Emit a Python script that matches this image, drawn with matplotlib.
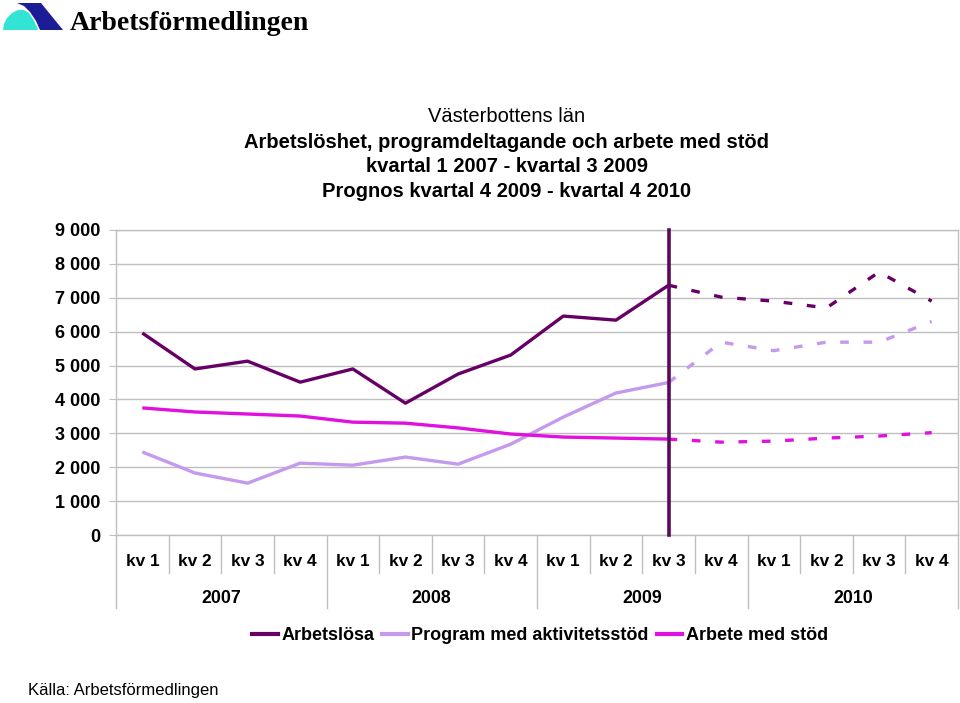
import matplotlib
matplotlib.use("Agg")
import matplotlib.pyplot as plt
from matplotlib.lines import Line2D
from matplotlib.patches import Polygon

plt.rcParams['font.family'] = ['Liberation Sans', 'DejaVu Sans']

# kategorier
kvartal = ["kv 1", "kv 2", "kv 3", "kv 4"] * 4
ar = ["2007", "2008", "2009", "2010"]

# utfall kv1 2007 - kv3 2009
arbetslosa = [5960, 4900, 5130, 4510, 4900, 3890, 4750, 5310, 6460, 6340, 7370]
program = [2450, 1830, 1530, 2120, 2060, 2300, 2090, 2680, 3480, 4190, 4500]
arbete = [3750, 3630, 3570, 3510, 3330, 3300, 3160, 2980, 2890, 2860, 2830]

# prognos kv3 2009 - kv4 2010
arbetslosa_prognos = [7370, 7020, 6900, 6700, 7760, 6900]
program_prognos = [4500, 5690, 5440, 5690, 5690, 6300]
arbete_prognos = [2830, 2740, 2770, 2860, 2920, 3020]

yticks = [0, 1000, 2000, 3000, 4000, 5000, 6000, 7000, 8000, 9000]
ytick_labels = ["0", "1 000", "2 000", "3 000", "4 000", "5 000",
                "6 000", "7 000", "8 000", "9 000"]

c_arb = "#660066"
c_prog = "#C49AEC"
c_stod = "#E010E0"
c_grid = "#BFBFBF"

fig = plt.figure(figsize=(9.6, 7.03), dpi=100)
ax = fig.add_axes([116/960, 1-535/703, 842/960, 305/703])

x_utfall = list(range(len(arbetslosa)))
x_prognos = list(range(len(arbetslosa)-1, len(kvartal)))

lw = 2.4
dash = (2.6, 4.4)
ax.plot(x_utfall, program, color=c_prog, lw=lw, solid_capstyle="butt")
ax.plot(x_utfall, arbete, color=c_stod, lw=lw, solid_capstyle="butt")
ax.plot(x_utfall, arbetslosa, color=c_arb, lw=lw, solid_capstyle="butt")
ax.plot(x_prognos, program_prognos, color=c_prog, lw=lw, dashes=dash)
ax.plot(x_prognos, arbete_prognos, color=c_stod, lw=lw, dashes=dash)
ax.plot(x_prognos, arbetslosa_prognos, color=c_arb, lw=lw, dashes=dash)

# gräns utfall / prognos
ax.plot([x_utfall[-1], x_utfall[-1]], [0, 9000], color="#5A0A5A", lw=2.6,
        clip_on=False, zorder=5)

ax.set_xlim(-0.5, len(kvartal)-0.5)
ax.set_ylim(0, 9000)
ax.set_yticks(yticks)
ax.set_yticklabels(ytick_labels, fontsize=13, fontweight="bold")
ax.tick_params(axis="y", length=5, color=c_grid, pad=6)
ax.set_xticks([])
ax.grid(axis="y", color=c_grid, lw=1)
ax.set_axisbelow(True)
for s in ["left", "bottom", "right", "top"]:
    ax.spines[s].set_color(c_grid)
    ax.spines[s].set_linewidth(1)

# kategoriaxel i två nivåer
tr = ax.get_xaxis_transform()
for i in range(len(kvartal)+1):
    b = i - 0.5
    low = -0.239 if i % 4 == 0 else -0.125
    ax.plot([b, b], [0, low], color=c_grid, lw=1, transform=tr, clip_on=False)
for i, lab in enumerate(kvartal):
    ax.text(i, -0.088, lab, transform=tr, ha="center", va="center",
            fontsize=12.4, fontweight="bold")
for j, lab in enumerate(ar):
    ax.text(j*4+1.5, -0.207, lab, transform=tr, ha="center", va="center",
            fontsize=12.8, fontweight="bold")

# titel
fig.text(507/960, 1-117/703, "Västerbottens län", ha="center", va="center",
         fontsize=14.5)
fig.text(507/960, 1-142/703, "Arbetslöshet, programdeltagande och arbete med stöd",
         ha="center", va="center", fontsize=14.5, fontweight="bold")
fig.text(507/960, 1-166/703, "kvartal 1 2007 - kvartal 3 2009", ha="center",
         va="center", fontsize=14.5, fontweight="bold")
fig.text(507/960, 1-191/703, "Prognos kvartal 4 2009 - kvartal 4 2010",
         ha="center", va="center", fontsize=14.5, fontweight="bold")

# legend
handles = [Line2D([], [], color=c_arb, lw=3),
           Line2D([], [], color=c_prog, lw=3),
           Line2D([], [], color=c_stod, lw=3)]
fig.legend(handles, ["Arbetslösa", "Program med aktivitetsstöd", "Arbete med stöd"],
           loc="center", bbox_to_anchor=(540/960, 1-636/703), ncol=3,
           frameon=False, handlelength=1.4, handletextpad=0.2,
           columnspacing=0.45, prop={"size": 13, "weight": "bold"})

fig.text(28/960, 1-691/703, "Källa: Arbetsförmedlingen", ha="left", va="center",
         fontsize=12)

# logotyp
lax = fig.add_axes([0, 1-40/703, 320/960, 40/703])
lax.set_xlim(0, 320)
lax.set_ylim(40, 0)
lax.axis("off")
cyan = [(3, 30), (4, 24), (7, 18), (12, 13), (18, 10), (24, 10), (29, 13),
        (33, 19), (37, 27), (38, 30)]
blue = [(17, 3), (41, 3), (63, 30), (40, 30), (36, 21), (30, 12), (24, 6)]
lax.add_patch(Polygon(cyan, closed=True, color="#33E3D3", lw=0))
lax.add_patch(Polygon(blue, closed=True, color="#1C1C96", lw=0))
lax.text(70, 30, "Arbetsförmedlingen", ha="left", va="baseline",
         fontsize=20, fontweight="bold", family="Liberation Serif")

fig.savefig("out.png", dpi=100)
